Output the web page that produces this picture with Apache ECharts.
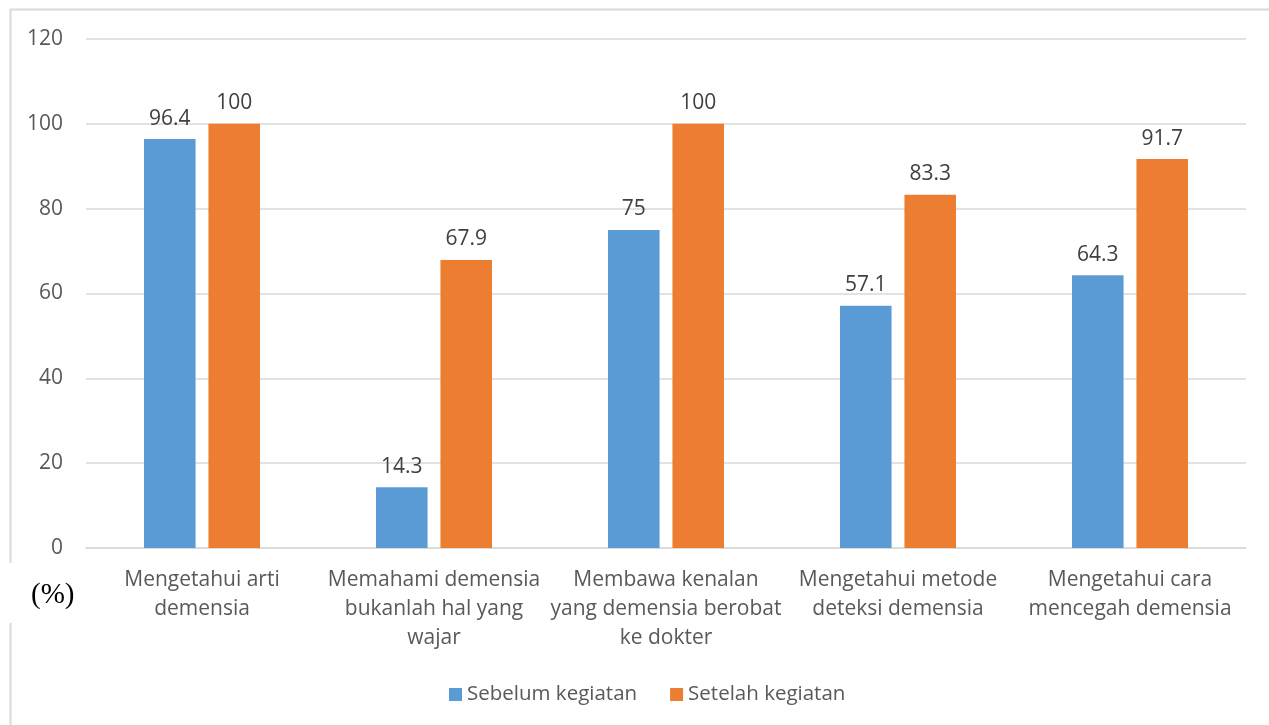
<!DOCTYPE html>
<html lang="en">
<head>
    <meta charset="UTF-8">
    <title>Pengetahuan demensia</title>
    <script src="https://cdn.jsdelivr.net/npm/echarts@6/dist/echarts.min.js"></script>
    <style>
        body { margin: 0; background: #fff; }
    </style>
</head>
<body>
<div id="main" style="width: 1269px;height:725px;"></div>
<script type="text/javascript">
    var categories = [
        'Mengetahui arti\ndemensia',
        'Memahami demensia\nbukanlah hal yang\nwajar',
        'Membawa kenalan\nyang demensia berobat\nke dokter',
        'Mengetahui metode\ndeteksi demensia',
        'Mengetahui cara\nmencegah demensia'
    ];
    var sebelum = [96.4, 14.3, 75, 57.1, 64.3];
    var setelah = [100, 67.9, 100, 83.3, 91.7];

    var font = '"Open Sans", "Noto Sans", sans-serif';
    var myChart = echarts.init(document.getElementById('main'));

    var option = {
        animation: false,
        textStyle: { fontFamily: font },
        grid: { left: 86, right: 23, top: 39, bottom: 177 },
        legend: {
            data: ['Sebelum kegiatan', 'Setelah kegiatan'],
            left: 444,
            top: 679,
            icon: 'rect',
            itemWidth: 13,
            itemHeight: 13,
            itemGap: 33,
            textStyle: { fontSize: 20.5, color: '#595959', fontFamily: font }
        },
        xAxis: {
            type: 'category',
            data: categories,
            axisLine: { lineStyle: { color: '#d9d9d9', width: 1.5 } },
            axisTick: { show: false },
            axisLabel: {
                fontSize: 21,
                color: '#595959',
                lineHeight: 29,
                margin: 18,
                interval: 0,
                fontFamily: font
            }
        },
        yAxis: {
            type: 'value',
            min: 0,
            max: 120,
            interval: 20,
            axisLine: { show: false },
            axisTick: { show: false },
            splitLine: { lineStyle: { color: '#d9d9d9', width: 1.5 } },
            axisLabel: { fontSize: 21, color: '#595959', margin: 23, fontFamily: font }
        },
        series: [
            {
                name: 'Sebelum kegiatan',
                type: 'bar',
                data: sebelum,
                barGap: '25%',
                barCategoryGap: '50%',
                itemStyle: { color: '#5B9BD5' },
                label: { show: true, position: 'top', distance: 10, fontSize: 21, color: '#404040', fontFamily: font }
            },
            {
                name: 'Setelah kegiatan',
                type: 'bar',
                data: setelah,
                barGap: '25%',
                barCategoryGap: '50%',
                itemStyle: { color: '#ED7D31' },
                label: { show: true, position: 'top', distance: 10, fontSize: 21, color: '#404040', fontFamily: font }
            }
        ],
        graphic: [
            {
                type: 'rect',
                silent: true,
                z: -10,
                shape: { x: 10.5, y: 9.5, width: 1300, height: 800 },
                style: { fill: 'none', stroke: '#d9d9d9', lineWidth: 2 }
            },
            {
                type: 'rect',
                silent: true,
                z: -5,
                shape: { x: 0, y: 563, width: 30, height: 60 },
                style: { fill: '#fff' }
            },
            {
                type: 'text',
                left: 31,
                top: 581,
                style: {
                    text: '(%)',
                    font: '29px "Liberation Serif", "Times New Roman", serif',
                    fill: '#000'
                }
            }
        ]
    };
    myChart.setOption(option);
</script>
</body>
</html>
